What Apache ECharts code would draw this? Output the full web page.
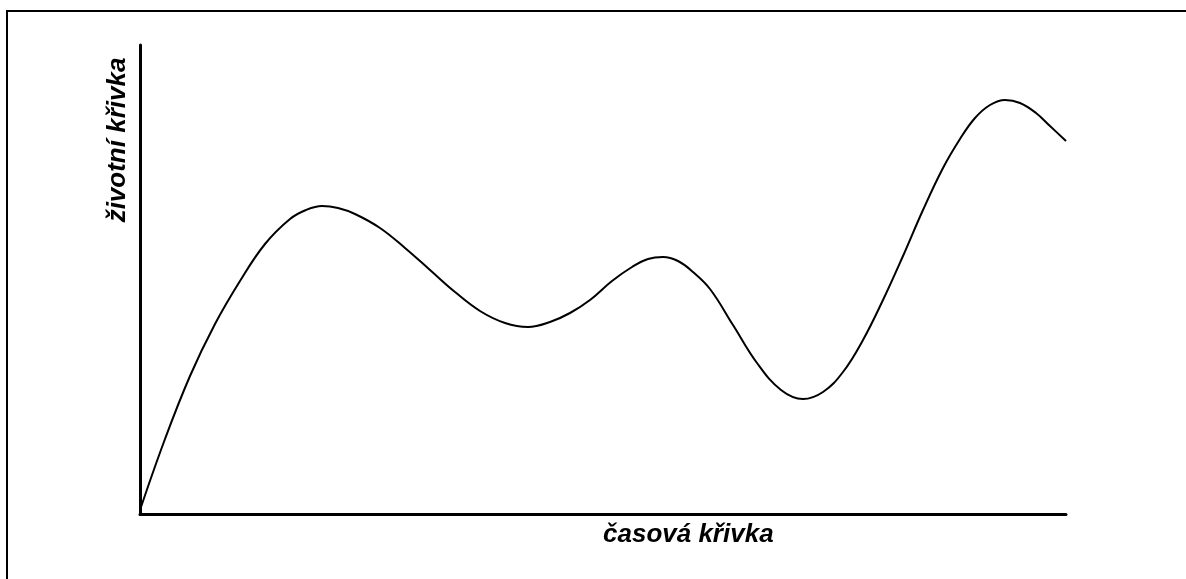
<!DOCTYPE html>
<html>
<head>
<meta charset="utf-8">
<script src="https://cdn.jsdelivr.net/npm/echarts@6/dist/echarts.min.js"></script>
<style>
html,body{margin:0;padding:0;background:#fff;overflow:hidden;}
#chart{width:1186px;height:579px;}
</style>
</head>
<body>
<div id="chart"></div>
<script>
// time positions (arbitrary units) and life-curve values
const timeValues = [0, 25, 50, 75, 100, 125, 150, 166, 182, 198, 215, 240, 265, 290, 315, 340, 365, 388, 410, 430, 450, 472, 492, 508, 523, 538, 553, 570, 593, 617, 641, 663, 683, 703, 723, 743, 763, 783, 803, 820, 835, 850, 865, 880, 896, 910, 926];
const lifeValues = [4, 75, 138, 190, 233, 270, 295, 304, 308, 306, 300, 286, 266, 244, 222, 203, 191, 187, 192, 201, 214, 233, 247, 255, 257, 253, 242, 225, 189, 151, 124, 115, 122, 142, 174, 214, 258, 304, 346, 375, 396, 409, 414, 411, 401, 388, 373];
const xAxisTitle = 'časová křivka';
const yAxisTitle = 'životní křivka';

const points = timeValues.map((t, i) => [t, lifeValues[i]]);
const chart = echarts.init(document.getElementById('chart'), null, {renderer: 'canvas'});
chart.setOption({
  animation: false,
  backgroundColor: '#ffffff',
  grid: {left: 140, right: 120, top: 45, bottom: 65, containLabel: false},
  xAxis: {
    type: 'value', min: 0, max: 926,
    axisLine: {show: true, lineStyle: {color: '#000', width: 3}},
    axisTick: {show: false}, axisLabel: {show: false}, splitLine: {show: false},
    name: xAxisTitle, nameLocation: 'middle', nameGap: 21,
    nameTextStyle: {fontFamily: 'Liberation Sans, Arial, sans-serif', fontWeight: 'bold', fontStyle: 'italic', fontSize: 26, color: '#000', align: 'left', verticalAlign: 'middle'}
  },
  yAxis: {
    type: 'value', min: 0, max: 469,
    axisLine: {show: true, onZero: false, lineStyle: {color: '#000', width: 3}},
    axisTick: {show: false}, axisLabel: {show: false}, splitLine: {show: false}
  },
  series: [{
    type: 'line', data: points, smooth: 0.4, symbol: 'none',
    lineStyle: {color: '#000', width: 2}
  }],
  graphic: [
    {type: 'polyline', shape: {points: [[7, 700], [7, 11], [1300, 11]]}, style: {fill: null, stroke: '#000', lineWidth: 2}, silent: true},
    {type: 'text', x: 118, y: 140, rotation: Math.PI / 2,
     style: {text: yAxisTitle, fontFamily: 'Liberation Sans, Arial, sans-serif', fontWeight: 'bold', fontStyle: 'italic', fontSize: 26, fill: '#000', align: 'center', verticalAlign: 'middle'}}
  ]
});
</script>
</body>
</html>
